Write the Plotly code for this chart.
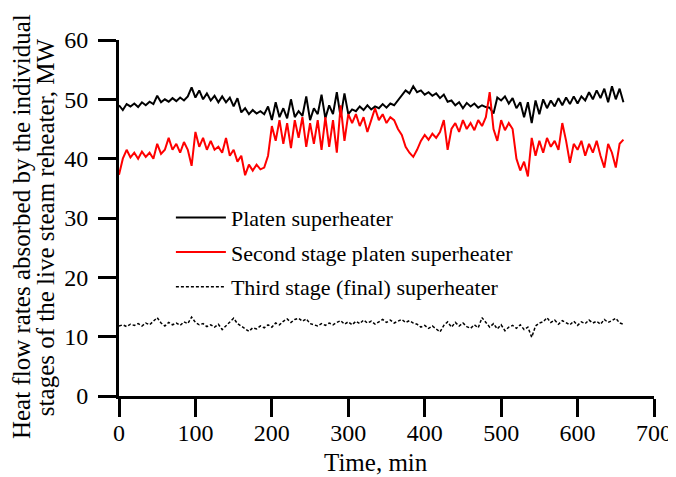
import plotly.graph_objects as go

# time axis, min (one reading every 5 min)
time_min = list(range(0, 661, 5))

# Platen superheater, MW
platen = [
    49.0, 48.2, 49.2, 48.8, 49.3, 48.7, 49.5, 49.0, 49.6, 49.2,
    50.6, 49.5, 50.0, 49.6, 50.2, 49.7, 50.3, 49.8, 50.5, 52.0,
    50.3, 51.5, 50.0, 51.0, 49.8, 50.6, 49.5, 50.5, 49.5, 50.3,
    48.8, 50.2, 47.8, 48.5, 47.5, 48.2, 47.6, 48.0, 47.5, 48.8,
    46.5, 49.5, 47.0, 48.5, 46.8, 50.0, 47.0, 48.0, 47.2, 50.5,
    46.5, 48.5, 47.5, 50.8, 46.8, 49.0, 47.5, 51.2, 47.0, 51.0,
    47.5, 48.3, 48.0, 48.8, 48.2, 49.0, 48.3, 48.8, 48.5, 49.2,
    48.6, 49.3, 49.0, 49.8, 50.5, 51.5, 51.0, 52.2, 51.2, 51.5,
    50.8, 51.2, 50.6, 51.0, 50.2, 50.8, 49.6, 49.8, 49.0, 49.5,
    48.5, 49.4, 48.8, 49.3, 48.6, 49.0, 48.7, 48.6, 47.6, 50.3,
    49.8, 50.5, 49.3, 50.2, 48.5, 49.5, 47.0, 49.5, 46.0, 49.8,
    47.5, 50.0, 48.5, 49.8, 48.8, 50.2, 49.0, 50.3, 49.2, 50.5,
    49.3, 50.5, 49.8, 51.2, 50.0, 51.5, 50.2, 51.8, 49.5, 52.2,
    50.0, 51.8, 49.5,
]

# Second stage platen superheater, MW
second = [
    37.3, 40.0, 41.5, 40.2, 41.0, 40.0, 41.2, 40.3, 41.0, 40.0,
    42.5, 40.8, 41.5, 43.5, 41.5, 42.5, 41.0, 42.8, 41.5, 38.8,
    44.5, 42.0, 43.5, 41.5, 43.0, 41.5, 42.0, 41.0, 43.5, 40.5,
    41.5, 39.5, 40.5, 37.2, 39.0, 38.0, 39.0, 38.2, 38.5, 40.5,
    45.5, 43.0, 46.5, 42.5, 46.0, 41.8, 46.5, 43.5, 47.0, 42.0,
    46.0, 42.5, 46.5, 41.5, 47.0, 42.0, 46.5, 41.0, 49.0, 43.0,
    47.5, 46.0, 47.5, 45.5, 47.0, 44.5, 46.5, 48.5, 46.5, 47.5,
    46.0, 47.0, 46.5, 45.0, 44.0, 42.0, 41.0, 40.3, 41.5, 43.0,
    44.0, 43.2, 44.2, 43.5, 44.5, 46.5, 41.5, 45.0, 46.0, 44.5,
    46.5, 45.0, 46.0, 44.8, 46.5, 45.5, 47.0, 51.2, 45.0, 43.0,
    46.5, 44.8, 46.0, 45.0, 40.0, 38.0, 39.5, 37.0, 43.5, 40.5,
    43.0, 41.0, 43.5, 42.0, 43.0, 41.5, 46.0, 43.0, 39.3, 42.5,
    41.5, 43.0, 40.5, 42.5, 41.0, 43.0, 40.5, 38.5, 42.5, 41.0,
    38.5, 42.5, 43.2,
]

# Third stage (final) superheater, MW
third = [
    11.8, 12.0, 11.7, 12.1, 11.9, 12.2, 11.8, 12.3, 12.0, 12.6,
    13.2, 12.3, 11.8, 12.4, 12.0, 12.3, 11.9, 12.5, 12.2, 13.3,
    12.4, 12.0, 12.2, 11.7, 12.0, 11.6, 12.1, 11.2, 11.8, 12.4,
    13.1, 12.2, 11.8, 11.4, 10.9, 11.5, 11.3, 11.8, 11.5, 12.0,
    11.6, 12.3, 12.0, 12.6, 13.0, 12.4, 12.9, 13.1, 12.6, 13.0,
    12.2, 12.0, 11.8, 12.2, 11.9, 12.3, 12.0, 12.4, 12.7, 12.1,
    12.5, 12.0, 12.6, 12.2, 12.8, 12.3, 12.6, 12.1, 12.5, 12.9,
    12.4, 12.8, 12.3, 12.6, 12.9, 12.4, 12.7, 12.3, 12.1, 11.6,
    11.9, 11.4, 11.8, 11.3, 10.8, 11.9, 12.5, 11.6, 12.4, 11.8,
    12.3, 11.7, 11.4, 12.0, 11.5, 13.2, 12.4, 11.6, 12.2, 11.3,
    12.0, 11.0, 11.6, 11.9, 11.4, 12.0, 11.2, 11.6, 9.9, 11.8,
    12.3, 12.5, 13.2, 12.4, 12.8, 12.1, 12.7, 12.3, 12.0, 12.6,
    11.9, 12.5, 12.2, 12.8, 12.3, 12.6, 12.1, 12.9, 12.4, 12.7,
    13.1, 12.3, 12.1,
]

FONT = "Liberation Serif, Times New Roman, serif"

fig = go.Figure()
fig.add_trace(go.Scatter(x=time_min, y=platen, mode="lines", name="Platen superheater",
                         legendgroup="a", line=dict(color="black", width=2)))
fig.add_trace(go.Scatter(x=time_min, y=second, mode="lines", name="Second stage platen superheater",
                         legendgroup="b", line=dict(color="red", width=2)))
fig.add_trace(go.Scatter(x=time_min, y=third, mode="lines", name="Third stage (final) superheater",
                         legendgroup="c", line=dict(color="black", width=1.5, dash="3px,2px")))

axis_common = dict(showline=True, linewidth=3, linecolor="black", ticks="outside",
                   ticklen=18, tickwidth=3, tickcolor="black", showgrid=False,
                   zeroline=False, automargin=False,
                   tickfont=dict(family=FONT, size=24, color="black"))

# the page body adds 8px around the figure, so the figure is 8px smaller
fig.update_layout(
    width=668, height=469,
    margin=dict(l=111, r=22, t=32, b=81),
    paper_bgcolor="white", plot_bgcolor="white",
    font=dict(family=FONT, color="black"),
    xaxis=dict(range=[0, 700], dtick=100, ticklabelstandoff=-5, **axis_common),
    yaxis=dict(range=[0, 60], dtick=10, ticklabelstandoff=5, **axis_common),
    legend=dict(x=0.097, y=0.56, xanchor="left", yanchor="top", bgcolor="rgba(0,0,0,0)",
                font=dict(family=FONT, size=22), traceorder="grouped", tracegroupgap=3,
                itemwidth=50),
)

fig.add_annotation(text="Time, min", xref="paper", yref="paper", x=0.48, y=-0.188,
                   xanchor="center", yanchor="middle", showarrow=False,
                   font=dict(family=FONT, size=25, color="black"))

# two-line y title, drawn as separate lines for tighter spacing
ytitle_lines = ["Heat flow rates absorbed by the individual",
                "stages of the live steam reheater, MW"]
for xpos, txt in zip([-0.181, -0.136], ytitle_lines):
    fig.add_annotation(text=txt, xref="paper", yref="paper", x=xpos, y=0.475,
                       xanchor="center", yanchor="middle", textangle=-90, showarrow=False,
                       font=dict(family=FONT, size=25, color="black"))

fig.write_html("out.html")
